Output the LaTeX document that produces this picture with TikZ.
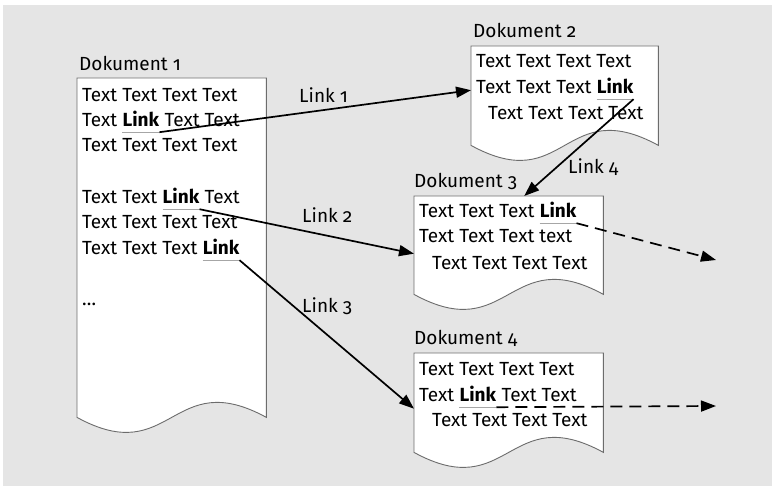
\documentclass[tikz,border=0pt]{standalone}
\usepackage{fontspec}
\setmainfont{Fira Sans}[Numbers=OldStyle]
\usetikzlibrary{positioning,arrows.meta}

\tikzset{
  txt/.style={inner sep=0pt, anchor=base west, font=\fontsize{19}{22}\selectfont},
  lnk/.style={txt, font=\fontsize{19}{22}\selectfont\bfseries, text depth=5pt},
  uline/.style={draw=gray!70, line width=0.8pt},
  doc/.style={inner sep=0pt, minimum width=189pt},
  page/.style={draw=gray!85!black, fill=white, line width=0.9pt},
  link/.style={line width=1.7pt, -{Triangle[length=15pt,width=11pt]}},
  next/.style={dashed, dash pattern=on 12pt off 7pt, line width=1.7pt, -{Triangle[length=15pt,width=11pt]}}
}

% page with wavy lower edge
\newcommand{\docpage}[1]{%
  \draw[page] (#1.south west) -- (#1.north west) -- (#1.north east) -- (#1.south east)
    .. controls +(-95,-52) and +(95,52) .. (#1.south west) -- cycle;}

\begin{document}
\begin{tikzpicture}[x=1pt, y=-1pt, node distance=5pt]
\useasboundingbox (0,0) rectangle (772,486);
\fill[gray!20] (3,5) rectangle (772,486);

% pages
\node[doc, minimum height=339pt, anchor=north west] (d1) at (77,78) {};
\node[doc, minimum height=99pt, minimum width=187pt, anchor=north west] (d2) at (471,46) {};
\node[doc, minimum height=98pt, anchor=north west] (d3) at (414,196) {};
\node[doc, minimum height=99pt, anchor=north west] (d4) at (414,353) {};
\docpage{d1}
\docpage{d2}
\docpage{d3}
\docpage{d4}

% titles
\node[txt] (t1) at (79,71) {Dokument 1};
\node[txt] (t2) at (473,38) {Dokument 2};
\node[txt] (t3) at (414,188) {Dokument 3};
\node[txt] (t4) at (414,345) {Dokument 4};

% Dokument 1
\node[txt] (a1) at (82,102) {Text Text Text Text};
\node[txt] (a2) at (82,127) {Text};
\node[lnk, base right=of a2] (k1) {Link};
\node[txt, base right=of k1] (a2r) {Text Text};
\node[txt] (a3) at (82,152) {Text Text Text Text};
\node[txt] (a4) at (82,204) {Text Text};
\node[lnk, base right=of a4] (k2) {Link};
\node[txt, base right=of k2] (a4r) {Text};
\node[txt] (a5) at (82,229) {Text Text Text Text};
\node[txt] (a6) at (82,255) {Text Text Text};
\node[lnk, base right=of a6] (k3) {Link};
\node[txt] (a7) at (82,306) {\dots};

% Dokument 2
\node[txt] (b1) at (476,68) {Text Text Text Text};
\node[txt] (b2) at (476,94) {Text Text Text};
\node[lnk, base right=of b2] (k4) {Link};
\node[txt] (b3) at (488,120) {Text Text Text Text};

% Dokument 3
\node[txt] (c1) at (419,218) {Text Text Text};
\node[lnk, base right=of c1] (k5) {Link};
\node[txt] (c2) at (419,243) {Text Text Text text};
\node[txt] (c3) at (432,270) {Text Text Text Text};

% Dokument 4
\node[txt] (e1) at (419,376) {Text Text Text Text};
\node[txt] (e2) at (419,402) {Text};
\node[lnk, base right=of e2] (k6) {Link};
\node[txt, base right=of k6] (e2r) {Text Text};
\node[txt] (e3) at (432,427) {Text Text Text Text};

% underlines
\foreach \k in {k1,k2,k3,k4,k5,k6}
  \draw[uline] (\k.south west) -- (\k.south east);

% links
\coordinate (out3) at (716,260);
\coordinate (out4) at (716,406);
\draw[link] (k1.south east) -- ([yshift=5.5pt]d2.west);
\draw[link] (k2.south east) -- ([yshift=-8.5pt]d3.west);
\draw[link] (k3.south east) -- ([yshift=-6pt]d4.west);
\draw[link] (k4.south east) -- ([xshift=15.5pt]d3.north);
\draw[next] (k5.south east) -- (out3);
\draw[next] (k6.south east) -- (out4);

\node[txt] (l1) at (299,103) {Link 1};
\node[txt] (l2) at (302,223) {Link 2};
\node[txt] (l3) at (302,313) {Link 3};
\node[txt] (l4) at (568,174) {Link 4};
\end{tikzpicture}
\end{document}
